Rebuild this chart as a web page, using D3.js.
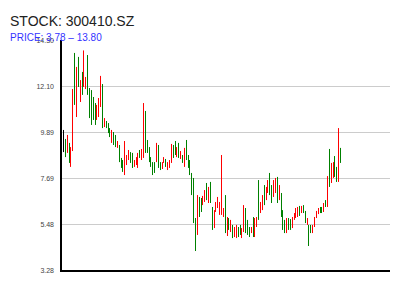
<!DOCTYPE html>
<html><head><meta charset="utf-8">
<script src="https://cdn.jsdelivr.net/npm/d3@7"></script>
<style>body{margin:0;background:#fff}svg{display:block}</style>
</head><body>
<svg id="c" width="400" height="300"></svg>
<script>
const title = "STOCK: 300410.SZ";
const subtitle = "PRICE: 3.78 – 13.80";
const yTicks = [3.28, 5.48, 7.69, 9.89, 12.10, 14.30];
const high = [
9.99,9.56,9.75,9.37,9.17,11.95,13.68,13.01,13.49,12.38,
12.77,13.80,12.53,13.58,12.00,11.90,11.57,11.28,11.19,11.52,
12.58,12.19,10.56,10.42,10.32,10.08,9.99,9.89,9.75,9.46,
9.27,8.65,8.55,9.46,8.79,9.03,8.93,8.89,8.55,8.69,
8.89,9.03,9.08,11.28,10.90,9.51,9.17,8.69,8.45,8.45,
9.37,9.27,8.45,8.45,8.69,8.60,8.45,8.55,9.32,9.27,
9.46,9.17,9.37,8.98,8.79,9.13,9.51,8.79,8.55,7.93,
7.69,5.77,6.87,6.78,6.73,6.83,7.11,7.45,7.26,7.50,
6.30,6.15,6.54,6.78,6.54,8.79,6.25,6.87,5.82,5.77,
5.68,5.44,5.34,5.44,5.34,5.44,5.29,6.39,6.25,5.68,
5.34,5.34,5.82,5.77,5.82,7.59,6.54,6.87,7.35,7.26,
7.59,7.93,7.35,7.59,7.69,7.74,7.35,6.97,6.15,5.68,
5.77,5.77,5.72,5.82,6.01,6.25,6.30,6.35,6.35,6.39,
6.11,5.77,5.44,5.44,5.44,5.82,6.11,6.25,6.30,6.30,
6.49,6.63,7.78,9.08,8.41,8.45,8.74,8.22,10.08,9.13];
const low = [
8.93,8.69,8.89,8.41,8.22,8.98,11.19,10.61,12.05,11.33,
11.67,12.05,11.95,11.67,10.56,10.23,10.47,10.23,10.47,10.61,
11.09,10.08,10.13,10.08,9.84,9.65,9.37,9.27,9.17,9.13,
8.45,8.17,7.98,7.83,8.31,8.55,8.41,8.17,8.22,8.31,
8.17,8.65,8.55,8.65,8.89,8.89,8.45,8.22,7.83,7.93,
8.45,8.17,8.07,8.12,8.41,8.22,8.07,8.17,8.41,8.65,
8.79,8.69,8.65,8.60,8.41,8.22,8.55,8.17,7.83,6.87,
5.53,4.19,4.96,5.82,6.06,6.39,6.54,6.63,6.49,6.49,
5.20,5.29,6.06,6.25,5.92,5.92,5.82,5.05,4.91,5.20,
5.10,4.81,4.86,4.81,4.86,4.96,4.81,5.10,5.05,4.96,
4.86,5.05,4.86,4.86,5.34,5.68,6.01,6.15,6.39,6.63,
6.97,6.87,6.49,6.78,6.97,6.49,6.63,5.82,5.20,5.05,
5.05,5.20,5.20,5.29,5.68,5.77,5.82,5.87,6.01,6.01,
5.53,5.44,4.43,5.05,5.05,5.34,5.77,5.96,6.01,6.01,
6.06,6.30,6.30,7.26,7.45,7.69,7.74,7.50,7.50,8.41];
// 1 = close above open (red), -1 = close below open (green), 0 = unchanged (black)
const dir = [
0,-1,1,-1,1,1,-1,1,-1,1,
-1,1,1,-1,-1,-1,-1,-1,1,1,
1,-1,1,-1,-1,-1,1,-1,-1,1,
-1,-1,-1,1,1,1,-1,-1,1,1,
1,-1,1,1,-1,-1,-1,-1,-1,-1,
1,-1,-1,1,1,-1,1,1,1,-1,
-1,1,-1,1,-1,1,-1,-1,-1,-1,
-1,-1,1,-1,-1,1,1,-1,1,-1,
-1,1,1,1,1,1,1,-1,1,-1,
1,-1,1,1,-1,-1,1,1,-1,-1,
-1,1,-1,1,1,-1,1,1,-1,1,
1,-1,-1,1,1,-1,1,-1,-1,-1,
1,-1,-1,1,1,1,1,-1,1,-1,
-1,1,-1,-1,1,1,1,1,-1,-1,
1,-1,1,-1,1,1,-1,-1,1,-1];

const svg = d3.select("#c");
const L = 61, R = 390, B = 271;
const x = d3.scaleLinear().domain([0, high.length - 1]).range([63, 340]);
const y = d3.scaleLinear().domain([3.28, 14.30]).range([270, 40]);
const color = d => d > 0 ? "#ff0000" : d < 0 ? "#008000" : "#000000";

svg.append("text").attr("x", 10).attr("y", 26)
  .attr("font-family", "Liberation Sans, Arial, sans-serif").attr("font-size", 14)
  .attr("fill", "#222").text(title);

// gridlines
svg.append("g").selectAll("line").data(yTicks.slice(1, -1)).join("line")
  .attr("x1", L).attr("x2", R)
  .attr("y1", d => Math.round(y(d)) + 0.5).attr("y2", d => Math.round(y(d)) + 0.5)
  .attr("stroke", "#cccccc").attr("stroke-width", 1);

// y axis labels
const ax = svg.append("g").attr("transform", `translate(${L},0)`)
  .call(d3.axisLeft(y).tickValues(yTicks).tickFormat(d => d.toFixed(2)).tickSize(0).tickPadding(7));
ax.select(".domain").remove();
ax.selectAll("text").attr("font-family", "Liberation Sans, Arial, sans-serif")
  .attr("font-size", 7).attr("fill", "#444");

// candles
svg.append("g").selectAll("rect").data(high.map((h, i) => i)).join("rect")
  .attr("x", i => Math.round(x(i)))
  .attr("width", 1)
  .attr("y", i => y(high[i]))
  .attr("height", i => Math.max(1, y(low[i]) - y(high[i])))
  .attr("fill", i => color(dir[i]));

// axes lines
svg.append("rect").attr("x", 60).attr("y", y(14.30)).attr("width", 2).attr("height", B + 1 - y(14.30)).attr("fill", "#000");
svg.append("rect").attr("x", 60).attr("y", Math.round(y(3.28))).attr("width", R - 60).attr("height", 2).attr("fill", "#000");

svg.append("text").attr("x", 10).attr("y", 41)
  .attr("font-family", "Liberation Sans, Arial, sans-serif").attr("font-size", 10)
  .attr("fill", "#3333ff").text(subtitle);
</script>
</body></html>
